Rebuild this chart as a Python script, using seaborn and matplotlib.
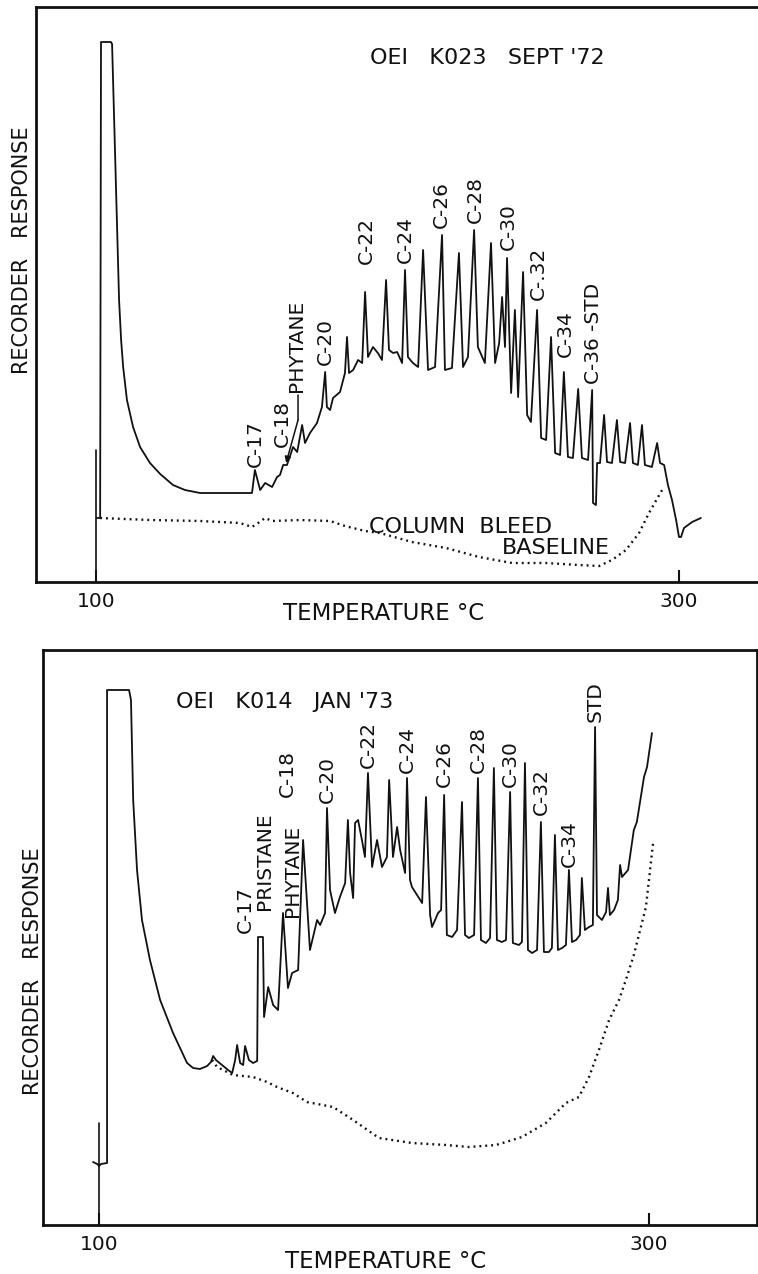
import matplotlib
matplotlib.use("Agg")
import matplotlib.pyplot as plt
import seaborn as sns
import pandas as pd

sns.set_theme(style="white")
plt.rcParams["font.family"] = ["DejaVu Sans"]

# ---------------- shared axis ticks ----------------
xtick_values = [100, 300]
xtick_labels = ["100", "300"]
x_label = "TEMPERATURE °C"
y_label = "RECORDER   RESPONSE"

# ---------------- Panel 1: OEI K023 SEPT '72 ----------------
top_title = "OEI   K023   SEPT '72"
top_temp = [
    100.3, 101.4, 101.7, 105.1, 105.5, 107.9, 108.6, 109.3, 110.6, 112.7,
    115.1, 118.5, 122.0, 126.4, 130.5, 135.7, 153.5, 154.5, 156.3, 158.0,
    160.4, 162.1, 163.1, 164.2, 165.5, 167.6, 169.0, 170.7, 171.7, 173.4,
    175.8, 177.5, 178.6, 179.2, 180.3, 181.3, 183.7, 185.4, 186.1, 186.8,
    188.2, 189.9, 191.3, 192.3, 193.3, 195.0, 196.7, 198.1, 199.5, 200.5,
    201.9, 203.3, 205.0, 206.0, 207.0, 208.7, 210.5, 212.2, 213.9, 216.3,
    218.7, 219.7, 222.1, 224.5, 225.9, 227.6, 229.7, 231.0, 233.4, 235.5,
    236.9, 238.3, 239.3, 240.3, 241.0, 242.4, 243.7, 244.8, 246.5, 247.9,
    249.2, 251.3, 252.7, 254.4, 256.1, 257.5, 259.2, 260.5, 261.9, 263.6,
    265.4, 266.7, 268.8, 270.2, 270.5, 271.5, 271.9, 272.9, 274.3, 275.3,
    277.0, 278.7, 279.8, 281.5, 283.2, 284.2, 285.9, 287.3, 288.3, 290.7,
    292.5, 293.5, 294.9, 296.2, 297.6, 299.0, 300.0, 300.7, 301.7, 304.5, 307.5,
]
top_resp = [
    12.8, 12.8, 108.0, 108.0, 107.6, 56.4, 48.4, 43.0, 36.4, 31.0,
    27.0, 23.8, 21.6, 19.4, 18.4, 17.8, 17.8, 22.4, 18.4, 19.8,
    19.0, 21.0, 21.4, 23.4, 23.4, 27.0, 26.0, 31.4, 27.8, 29.8,
    31.8, 35.0, 42.0, 35.0, 34.4, 36.8, 38.0, 41.8, 49.0, 41.8,
    42.4, 44.4, 43.8, 58.0, 45.0, 47.0, 45.8, 44.4, 60.4, 46.4,
    45.8, 46.0, 43.8, 62.4, 45.0, 43.8, 43.0, 66.4, 42.4, 43.0,
    69.4, 42.4, 42.8, 65.8, 43.0, 45.0, 70.4, 47.0, 43.8, 67.8,
    43.8, 47.8, 57.0, 47.0, 64.8, 37.8, 54.4, 37.0, 62.0, 33.4,
    32.0, 54.4, 28.8, 28.4, 49.0, 25.8, 25.4, 42.0, 25.0, 24.8,
    38.6, 24.8, 24.4, 38.4, 15.8, 15.4, 23.8, 23.8, 33.4, 24.0,
    23.8, 32.4, 24.0, 23.8, 31.8, 23.8, 23.4, 31.4, 23.4, 23.0,
    27.8, 23.8, 23.4, 19.4, 16.4, 12.4, 9.0, 9.0, 10.8, 12.0, 12.8,
]
top_bleed_temp = [
    101.4, 118.5, 135.7, 149.4, 153.5, 155.6, 158.0, 160.4, 170.0, 180.3,
    185.4, 192.3, 197.4, 208.4, 220.1, 231.4, 242.7, 254.4, 265.7, 272.6,
    277.0, 281.8, 286.3, 289.7, 294.2,
]
top_bleed_resp = [
    12.8, 12.4, 12.2, 11.8, 11.0, 11.8, 12.8, 12.2, 12.4, 12.2,
    11.2, 10.2, 9.8, 8.0, 6.8, 5.0, 3.8, 3.8, 3.4, 3.2,
    4.4, 6.4, 9.8, 13.8, 18.4,
]
top_inject_temp = [100.0, 100.0]
top_inject_resp = [0.0, 26.4]
top_peak_names = ["C-17", "C-18", "PHYTANE", "C-20", "C-22", "C-24", "C-26",
                  "C-28", "C-30", "C-.32", "C-34", "C-36 -STD"]
top_peak_temp = [154.5, 163.8, 168.6, 178.6, 192.8, 206.0, 218.4,
                 230.0, 241.3, 251.6, 260.9, 270.5]
top_peak_resp = [23.0, 27.0, 38.0, 43.4, 63.6, 63.8, 70.8,
                 71.8, 66.4, 56.4, 45.0, 39.6]
top_bleed_label = ["COLUMN  BLEED", "BASELINE"]
top_bleed_label_temp = [225.2, 257.8]
top_bleed_label_resp = [11.0, 6.8]

# ---------------- Panel 2: OEI K014 JAN '73 ----------------
bot_title = "OEI   K014   JAN '73"
bot_temp = [
    97.8, 99.3, 100.0, 100.7, 102.9, 102.9, 110.9, 111.6, 112.4, 113.8,
    115.6, 118.5, 122.2, 126.9, 132.0, 134.2, 136.7, 139.3, 140.7, 141.5,
    142.5, 144.7, 146.9, 148.4, 149.5, 150.2, 151.3, 152.4, 153.1, 154.5,
    156.0, 157.5, 157.8, 159.6, 160.0, 161.5, 163.3, 165.1, 166.9, 168.7,
    170.2, 172.4, 174.2, 176.7, 179.3, 180.4, 182.2, 182.9, 184.0, 185.8,
    187.6, 189.5, 190.5, 191.3, 192.4, 193.1, 194.2, 195.6, 196.7, 197.8,
    199.3, 201.1, 202.9, 204.7, 205.5, 206.9, 208.4, 209.5, 211.3, 212.0,
    213.1, 213.8, 217.5, 218.9, 220.4, 221.1, 223.3, 224.4, 225.5, 226.5,
    228.4, 230.2, 232.0, 233.1, 234.5, 236.4, 237.8, 238.9, 240.7, 242.2,
    243.6, 244.7, 246.5, 248.0, 249.5, 250.5, 252.7, 253.8, 254.9, 256.0,
    257.5, 259.3, 260.7, 261.8, 263.6, 264.7, 265.8, 266.9, 268.4, 269.8,
    270.9, 272.0, 273.5, 274.9, 275.6, 276.7, 278.2, 279.6, 280.4, 281.1,
    282.9, 284.4, 285.1, 285.8, 287.3, 288.7, 289.5, 290.2, 292.4, 294.5,
    295.6, 298.2, 299.3, 301.1,
]
bot_resp = [
    12.6, 12.2, 11.8, 12.2, 12.4, 107.0, 107.0, 105.0, 85.0, 71.0,
    61.0, 53.0, 45.0, 38.4, 32.4, 31.4, 31.2, 31.8, 32.6, 33.8,
    33.0, 32.0, 31.0, 30.4, 33.0, 36.0, 32.4, 32.0, 35.8, 33.0,
    32.4, 32.8, 57.6, 57.6, 41.6, 47.6, 44.0, 43.0, 62.4, 47.4,
    50.4, 51.0, 77.0, 55.0, 61.0, 60.0, 62.4, 83.4, 67.0, 62.4,
    65.6, 68.4, 81.0, 70.4, 65.4, 80.4, 81.0, 77.0, 73.6, 90.4,
    71.6, 77.0, 71.6, 73.6, 89.0, 73.6, 79.6, 75.0, 70.4, 89.4,
    69.0, 67.6, 64.4, 85.6, 62.0, 59.6, 62.4, 63.0, 86.0, 58.0,
    57.6, 59.0, 84.6, 58.0, 57.4, 58.0, 89.4, 57.0, 56.4, 57.4,
    91.4, 57.0, 56.6, 57.0, 86.6, 56.4, 56.0, 56.6, 92.4, 55.0,
    54.4, 55.0, 80.6, 54.6, 54.6, 55.4, 78.0, 55.0, 55.4, 56.0,
    71.0, 56.6, 57.0, 58.0, 69.4, 59.0, 59.6, 60.0, 99.6, 62.0,
    61.0, 62.6, 67.4, 62.0, 63.0, 65.0, 72.0, 69.6, 71.0, 79.0,
    80.6, 89.6, 91.6, 98.4,
]
bot_bleed_temp = [
    141.1, 142.9, 148.7, 156.0, 161.1, 164.7, 170.5, 175.6, 185.1, 192.4,
    201.8, 213.8, 226.2, 234.5, 244.4, 253.8, 262.5, 269.8, 274.5, 278.2,
    281.8, 285.5, 289.1, 291.6, 294.5, 298.9, 301.5,
]
bot_bleed_resp = [
    33.0, 31.6, 30.0, 29.6, 28.6, 27.6, 26.4, 24.6, 23.6, 21.0,
    17.4, 16.4, 16.0, 15.6, 16.0, 17.6, 20.4, 24.4, 25.6, 29.6,
    35.0, 41.0, 45.0, 49.0, 54.0, 63.6, 76.4,
]
bot_inject_temp = [100.0, 100.0]
bot_inject_resp = [2.4, 20.4]
bot_peak_names = ["C-17", "PRISTANE", "PHYTANE", "C-18", "C-20", "C-22", "C-24",
                  "C-26", "C-28", "C-30", "C-32", "C-34", "STD"]
bot_peak_temp = [153.1, 160.0, 170.2, 168.4, 182.9, 197.8, 212.0,
                 225.5, 237.8, 249.5, 260.7, 270.9, 280.4]
bot_peak_resp = [58.4, 63.0, 61.6, 85.6, 84.4, 91.4, 90.4,
                 87.6, 90.4, 87.6, 82.0, 71.6, 100.6]

INK = "#111111"

fig = plt.figure(figsize=(7.58, 12.74), dpi=100, facecolor="white")
ax1 = fig.add_axes([36 / 758, 1 - 582 / 1274, (758 - 36) / 758, 575 / 1274])
ax2 = fig.add_axes([43 / 758, 1 - 1225 / 1274, 714 / 758, 575 / 1274])


def draw_panel(ax, m_t, m_r, b_t, b_r, i_t, i_r, names, n_t, n_r, xlim):
    main = pd.DataFrame({"temp": m_t, "resp": m_r})
    bleed = pd.DataFrame({"temp": b_t, "resp": b_r})
    inj = pd.DataFrame({"temp": i_t, "resp": i_r})
    sns.lineplot(data=inj, x="temp", y="resp", ax=ax, color=INK, linewidth=1.2,
                 sort=False, estimator=None)
    sns.lineplot(data=main, x="temp", y="resp", ax=ax, color=INK, linewidth=1.3,
                 sort=False, estimator=None)
    sns.lineplot(data=bleed, x="temp", y="resp", ax=ax, color=INK, linewidth=1.7,
                 linestyle=(0, (0.8, 1.7)), sort=False, estimator=None)
    for s, t, r in zip(names, n_t, n_r):
        ax.text(t, r, s, rotation=90, ha="center", va="bottom", fontsize=14.5,
                color=INK)
    ax.set_xlim(*xlim)
    ax.set_ylim(0, 115)
    ax.set_yticks([])
    ax.set_xticks(xtick_values)
    ax.set_xticklabels(xtick_labels)
    ax.tick_params(axis="x", direction="in", length=9, width=1.5, pad=7,
                   labelsize=14.5, colors=INK, bottom=True)
    for sp in ax.spines.values():
        sp.set_linewidth(2.0)
        sp.set_color(INK)
    ax.set_ylabel(y_label, fontsize=15, color=INK, va="center")
    ax.set_xlabel(x_label, fontsize=16.5, color=INK, va="center")


draw_panel(ax1, top_temp, top_resp, top_bleed_temp, top_bleed_resp,
           top_inject_temp, top_inject_resp, top_peak_names, top_peak_temp,
           top_peak_resp, (79.4, 327.1))
draw_panel(ax2, bot_temp, bot_resp, bot_bleed_temp, bot_bleed_resp,
           bot_inject_temp, bot_inject_resp, bot_peak_names, bot_peak_temp,
           bot_peak_resp, (79.6, 339.3))

ax1.spines["right"].set_visible(False)

# label placement
ax1.yaxis.set_label_coords(-0.019, 0.577)
ax1.xaxis.set_label_coords(0.481, -0.054)
ax2.yaxis.set_label_coords(-0.014, 0.442)
ax2.xaxis.set_label_coords(0.480, -0.064)

# titles inside panels
ax1.text(234.1, 104.8, top_title, ha="center", va="center", fontsize=16, color=INK)
ax2.text(167.6, 104.6, bot_title, ha="center", va="center", fontsize=16, color=INK)

# column-bleed annotation (top panel)
for s, t, r in zip(top_bleed_label, top_bleed_label_temp, top_bleed_label_resp):
    ax1.text(t, r, s, ha="center", va="center", fontsize=16, color=INK)

# phytane pointer (top panel)
ax1.annotate("", xy=(169.3, 32.4), xytext=(169.3, 37.4),
             arrowprops=dict(arrowstyle="-", lw=1.1, color=INK, shrinkA=0, shrinkB=0))
ax1.annotate("", xy=(165.2, 23.8), xytext=(169.3, 32.4),
             arrowprops=dict(arrowstyle="-|>", lw=1.1, color=INK, shrinkA=0, shrinkB=0,
                             mutation_scale=9))

fig.savefig("out.png", dpi=100, facecolor="white")
